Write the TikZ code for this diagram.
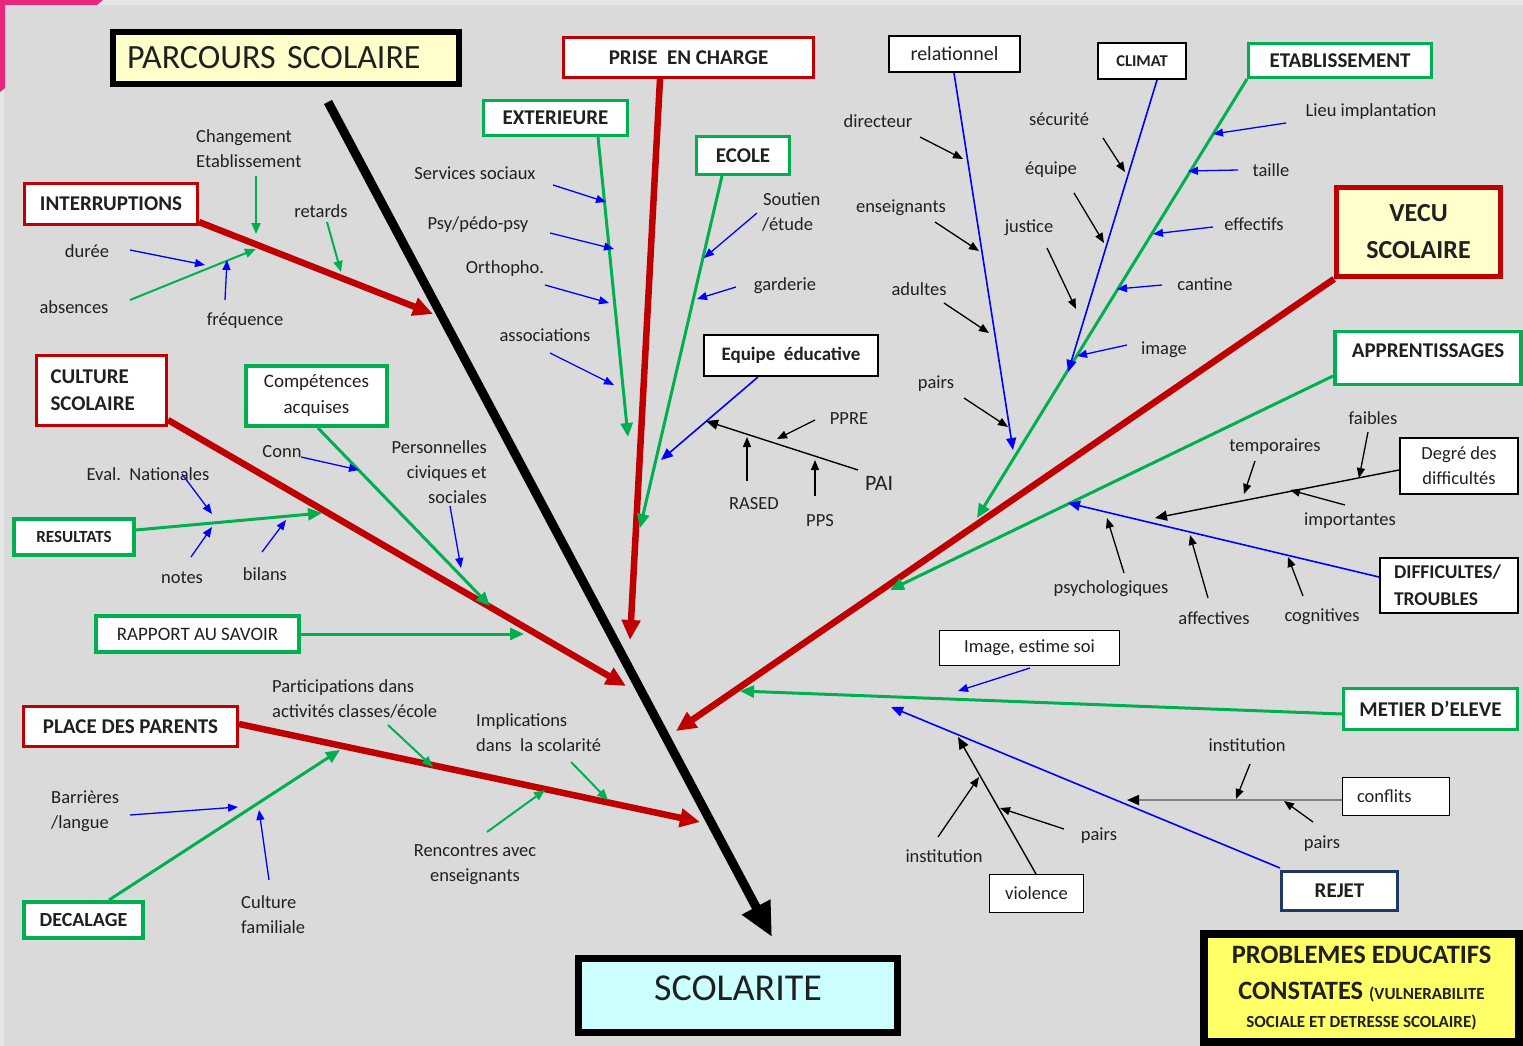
\documentclass[tikz,border=0pt]{standalone}
\usepackage{fontspec}
\setmainfont{Carlito}
\usetikzlibrary{arrows.meta}
\definecolor{myred}{HTML}{C00000}
\definecolor{mygreen}{HTML}{00B050}
\definecolor{myblue}{HTML}{0000FF}
\definecolor{bgc}{HTML}{DADADA}
\definecolor{bgl}{HTML}{E6E6E6}
\definecolor{pinkc}{HTML}{E8267E}
\definecolor{navy}{HTML}{1F3864}
\definecolor{txt}{HTML}{202020}
\definecolor{lyellow}{HTML}{FFFFCC}
\definecolor{lcyan}{HTML}{CCFFFF}
\definecolor{yel}{HTML}{FFFF66}
\definecolor{grayl}{HTML}{808080}
\newcommand\lblf{\fontsize{18.5}{25}\selectfont}
\newcommand\boxf{\fontsize{21}{27}\selectfont\bfseries}
\newcommand\cnx[4]{\coordinate (#1a) at #2; \coordinate (#1b) at #3; \draw[#4] (#1a) -- (#1b);}
\tikzset{
 lbl/.style={font=\lblf, text=txt, inner sep=0pt},
 bx/.style={fill=white, inner sep=2pt, text=txt, font=\boxf},
 bxR/.style={bx, draw=myred, line width=3pt},
 bxG/.style={bx, draw=mygreen, line width=3.5pt},
 bxK/.style={bx, draw=black, line width=1.5pt},
 mainarr/.style={draw=black, line width=9pt, -{Triangle[length=34pt,width=30pt]}},
 thickred/.style={draw=myred, line width=6.5pt, -{Triangle[length=20pt,width=18pt]}},
 grnline/.style={draw=mygreen, line width=3pt, -{Triangle[length=14pt,width=12pt]}},
 grnsm/.style={draw=mygreen, line width=2pt, -{Triangle[length=11pt,width=9pt]}},
 blusm/.style={draw=myblue, line width=1.3pt, -{Triangle[length=10pt,width=8pt]}},
 blksm/.style={draw=black, line width=1.3pt, -{Triangle[length=10pt,width=8pt]}},
 bluln/.style={draw=myblue, line width=1.6pt, -{Triangle[length=12pt,width=10pt]}},
 blkln/.style={draw=black, line width=1.4pt, -{Triangle[length=12pt,width=10pt]}},
 grayln/.style={draw=grayl, line width=1.8pt, -{Triangle[length=12pt,width=10pt,color=black]}},
}
\begin{document}
\begin{tikzpicture}[x=1pt,y=-1pt]
\useasboundingbox (0,0) rectangle (1523,1046);
\fill[bgl] (0,0) rectangle (1523,1046);
\fill[bgc] (4,5) rectangle (1523,1046);
\fill[pinkc] (0,0) -- (103,0) -- (97,5) -- (5,5) -- (5,88) -- (0,92) -- cycle;

% ---- main lines
\cnx{mk}{(328,102)}{(772,937)}{mainarr}
\cnx{rpec}{(660,79)}{(630,640)}{thickred}
\cnx{rvec}{(1334,279)}{(676,731)}{thickred}
\cnx{rint}{(199,222)}{(433,314)}{thickred}
\cnx{rcul}{(168,420)}{(626,686)}{thickred}
\cnx{rpla}{(239,724)}{(700,822)}{thickred}
\cnx{gext}{(598,137)}{(628,437)}{grnline}
\cnx{geco}{(722,176)}{(640,528)}{grnline}
\cnx{geta}{(1247,79)}{(977,518)}{grnline}
\cnx{gapp}{(1333,376)}{(890,590)}{grnline}
\cnx{gmet}{(1342,714)}{(740,691)}{grnline}
\cnx{gcom}{(318,428)}{(490,606)}{grnline}
\cnx{gres}{(136,530)}{(322,513)}{grnline}
\cnx{grap}{(301,634)}{(524,634)}{grnline}
\cnx{gdec}{(109,900)}{(340,750)}{grnline}
\cnx{brel}{(954,73)}{(1013,450)}{bluln}
\cnx{bcli}{(1157,80)}{(1068,372)}{bluln}
\cnx{bequ}{(758,377)}{(661,460)}{bluln}
\cnx{bdif}{(1379,577)}{(1068,503)}{bluln}
\cnx{brej}{(1280,868)}{(891,707)}{bluln}
\cnx{kpai}{(858,470)}{(706,421)}{blkln}
\cnx{kdeg}{(1399,470)}{(1155,518)}{blkln}
\cnx{kcon}{(1342,800)}{(1127,800)}{grayln}
\cnx{kvio}{(1036,874)}{(958,737)}{blkln}

% ---- small arrows
\cnx{chg}{(256,176)}{(256,234)}{grnsm}
\cnx{ret}{(327,222)}{(341,272)}{grnsm}
\cnx{dur}{(130,250)}{(205,265)}{blusm}
\cnx{abs}{(130,300)}{(256,249)}{grnsm}
\cnx{frq}{(225,300)}{(227,260)}{blusm}
\cnx{srv}{(553,185)}{(606,202)}{blusm}
\cnx{psy}{(550,233)}{(614,249)}{blusm}
\cnx{ort}{(545,285)}{(609,303)}{blusm}
\cnx{aso}{(550,353)}{(614,385)}{blusm}
\cnx{sou}{(757,213)}{(704,258)}{blusm}
\cnx{gar}{(736,287)}{(697,299)}{blusm}
\cnx{ppre}{(815,420)}{(777,439)}{blksm}
\cnx{ras}{(747,481)}{(747,437)}{blksm}
\cnx{pps}{(815,496)}{(815,460)}{blksm}
\cnx{dir}{(920,137)}{(963,159)}{blksm}
\cnx{ens}{(935,222)}{(979,251)}{blksm}
\cnx{adu}{(944,303)}{(989,333)}{blksm}
\cnx{pai}{(964,398)}{(1008,427)}{blksm}
\cnx{sec}{(1103,138)}{(1125,172)}{blksm}
\cnx{equi}{(1074,193)}{(1104,243)}{blksm}
\cnx{jus}{(1047,248)}{(1076,309)}{blksm}
\cnx{lieu}{(1286,123)}{(1213,134)}{blusm}
\cnx{tai}{(1238,170)}{(1188,171)}{blusm}
\cnx{eff}{(1213,227)}{(1153,234)}{blusm}
\cnx{can}{(1162,285)}{(1117,289)}{blusm}
\cnx{ima}{(1127,345)}{(1077,356)}{blusm}
\cnx{fai}{(1368,432)}{(1359,478)}{blksm}
\cnx{tem}{(1255,461)}{(1244,494)}{blksm}
\cnx{imp}{(1345,505)}{(1290,490)}{blksm}
\cnx{psyc}{(1124,573)}{(1107,518)}{blksm}
\cnx{aff}{(1208,598)}{(1190,535)}{blksm}
\cnx{cog}{(1303,596)}{(1288,557)}{blksm}
\cnx{ies}{(1030,668)}{(958,691)}{blusm}
\cnx{ins}{(1250,764)}{(1236,799)}{blksm}
\cnx{prr}{(1313,822)}{(1284,801)}{blksm}
\cnx{inn}{(938,837)}{(979,777)}{blksm}
\cnx{paa}{(1064,829)}{(1000,808)}{blksm}
\cnx{cnn}{(301,457)}{(359,470)}{blusm}
\cnx{per}{(450,506)}{(461,568)}{blusm}
\cnx{eva}{(182,474)}{(212,514)}{blusm}
\cnx{nts}{(191,557)}{(212,527)}{blusm}
\cnx{bil}{(262,552)}{(286,520)}{blusm}
\cnx{par}{(388,725)}{(433,767)}{grnsm}
\cnx{imc}{(571,762)}{(608,800)}{grnsm}
\cnx{ren}{(487,832)}{(545,790)}{grnsm}
\cnx{bar}{(130,815)}{(238,807)}{blusm}
\cnx{cuf}{(269,880)}{(259,810)}{blusm}

% ---- boxes
\node[draw=black, line width=6pt, fill=lyellow, minimum width=346pt, minimum height=52pt, font=\fontsize{34}{40}\selectfont, text=txt, text width=318pt, align=left, inner sep=2pt] (ps) at (286,58) {PARCOURS SCOLAIRE};
\node[draw=black, line width=7pt, fill=lcyan, minimum width=319pt, minimum height=74pt, font=\fontsize{38}{44}\selectfont, text=txt] (sco) at (738,995.5) {SCOLARITE\rule[-14pt]{0pt}{14pt}};
\node[bxR, minimum width=250pt, minimum height=40pt] (pec) at (688.5,57.5) {PRISE\ \ EN CHARGE};
\node[bxG, minimum width=144pt, minimum height=35pt] (ext) at (555.5,118) {EXTERIEURE};
\node[bxG, minimum width=93pt, minimum height=38pt] (eco) at (743,155.5) {ECOLE};
\node[bxK, minimum width=174pt, minimum height=41pt, font=\fontsize{19}{24}\selectfont\bfseries] (equ) at (791,355.5) {Equipe\ \ éducative};
\node[bxK, minimum width=131pt, minimum height=36pt, font=\fontsize{20}{24}\selectfont] (rel) at (954.5,54) {relationnel};
\node[bxK, minimum width=88pt, minimum height=36pt, font=\fontsize{16.5}{20}\selectfont\bfseries] (cli) at (1142,61) {CLIMAT};
\node[bxG, minimum width=183pt, minimum height=34pt] (eta) at (1340,60.5) {ETABLISSEMENT};
\node[bx, draw=myred, line width=5pt, fill=lyellow, minimum width=164pt, minimum height=89pt, font=\fontsize{26}{37}\selectfont\bfseries, align=center] (vecu) at (1418.5,232) {VECU\\SCOLAIRE};
\node[bxG, minimum width=186pt, minimum height=53pt] (app) at (1428,358) {APPRENTISSAGES\rule[-14pt]{0pt}{14pt}};
\node[bxK, minimum width=118pt, minimum height=56pt, font=\lblf, align=center] (deg) at (1459,466) {Degré des\\difficultés};
\node[bxK, minimum width=138pt, minimum height=55pt, font=\fontsize{19.5}{27}\selectfont\bfseries, align=left, text width=110pt, inner xsep=14pt] (dif) at (1449,585.5) {DIFFICULTES/\\TROUBLES};
\node[bxK, minimum width=180pt, minimum height=35pt, font=\lblf] (img) at (1029.5,648) {Image, estime soi};
\node[bxG, minimum width=174pt, minimum height=41pt] (met) at (1430.5,709) {METIER D’ELEVE};
\node[bx, draw=navy, line width=3pt, minimum width=116pt, minimum height=39pt] (rej) at (1339.5,891) {REJET};
\node[bxK, minimum width=107pt, minimum height=38pt, font=\lblf, text width=78pt, inner xsep=14.5pt, align=left] (con) at (1396,796.5) {conflits};
\node[bxK, minimum width=94pt, minimum height=38pt, font=\lblf] (vio) at (1036.5,893.5) {violence};
\node[draw=black, line width=8pt, fill=yel, minimum width=315pt, minimum height=108pt, align=center, text=txt, font=\fontsize{26.5}{36}\selectfont\bfseries] (pro) at (1361.5,988) {PROBLEMES EDUCATIFS\\CONSTATES {\fontsize{17}{20}\selectfont(VULNERABILITE}\\[-8pt]{\fontsize{17}{20}\selectfont SOCIALE ET DETRESSE SCOLAIRE)}};
\node[bxR, minimum width=173pt, minimum height=41pt] (int) at (111,204) {INTERRUPTIONS};
\node[bxR, minimum width=130pt, minimum height=70pt, align=left, text width=102pt, inner xsep=14pt] (cul) at (101.5,390.5) {CULTURE\\SCOLAIRE};
\node[bxG, line width=4pt, minimum width=141pt, minimum height=60pt, font=\fontsize{19}{26}\selectfont, align=center] (com) at (316.5,396) {Compétences\\acquises};
\node[bxG, line width=4pt, minimum width=120pt, minimum height=36pt, font=\fontsize{17}{20}\selectfont\bfseries] (res) at (74,537) {RESULTATS};
\node[bxG, line width=4pt, minimum width=203pt, minimum height=36pt, font=\fontsize{19}{22}\selectfont] (rap) at (197.5,634) {RAPPORT AU SAVOIR};
\node[bxR, minimum width=214pt, minimum height=40pt] (pla) at (130.5,726.5) {PLACE DES PARENTS};
\node[bxG, line width=4pt, minimum width=119pt, minimum height=36pt, font=\fontsize{20}{24}\selectfont\bfseries] (dec) at (83.5,920) {DECALAGE};

% ---- labels
\node[lbl, anchor=west, align=left] (tchg) at (196,148.5) {Changement\\Etablissement};
\node[lbl] (tret) at (321,211) {retards};
\node[lbl] (tdur) at (87,251) {durée};
\node[lbl] (tabs) at (74,307) {absences};
\node[lbl] (tfrq) at (245,321) {fréquence};
\node[lbl] (tsrv) at (475,173) {Services sociaux};
\node[lbl] (tpsy) at (478,225) {Psy/pédo-psy};
\node[lbl] (tort) at (505,269) {Orthopho.};
\node[lbl] (taso) at (545,335) {associations};
\node[lbl, anchor=west, align=left] (tsou) at (762,211.5) {\hspace*{1pt}Soutien\\/étude};
\node[lbl] (tgar) at (785,286) {garderie};
\node[lbl] (tppre) at (849,419) {PPRE};
\node[lbl, font=\fontsize{22}{26}\selectfont] (tpai) at (879,483) {PAI};
\node[lbl] (tras) at (754,504) {RASED};
\node[lbl] (tpps) at (820,521) {PPS};
\node[lbl] (tdir) at (878,121) {directeur};
\node[lbl] (tens) at (901,208) {enseignants};
\node[lbl] (tadu) at (919,289) {adultes};
\node[lbl] (tpai2) at (936,384) {pairs};
\node[lbl] (tsec) at (1059,119) {sécurité};
\node[lbl] (tequ) at (1051,170) {équipe};
\node[lbl] (tjus) at (1029,228) {justice};
\node[lbl] (tlieu) at (1371,112) {Lieu implantation};
\node[lbl] (ttai) at (1271,170) {taille};
\node[lbl] (teff) at (1254,224) {effectifs};
\node[lbl] (tcan) at (1205,284) {cantine};
\node[lbl] (tima) at (1164,350) {image};
\node[lbl] (tfai) at (1373,418) {faibles};
\node[lbl] (ttem) at (1275,447) {temporaires};
\node[lbl] (timp) at (1350,521) {importantes};
\node[lbl] (tpsyc) at (1111,589) {psychologiques};
\node[lbl] (taff) at (1214,618) {affectives};
\node[lbl] (tcog) at (1322,617) {cognitives};
\node[lbl] (tins) at (1247,745) {institution};
\node[lbl] (tprr) at (1322,844) {pairs};
\node[lbl] (tinn) at (944,856) {institution};
\node[lbl] (tpaa) at (1099,836) {pairs};
\node[lbl] (tcnn) at (282,452) {Conn};
\node[lbl] (teva) at (148,474) {Eval.\ \ Nationales};
\node[lbl] (tnts) at (182,578) {notes};
\node[lbl] (tbil) at (265,574) {bilans};
\node[lbl, anchor=east, align=right] (tper) at (487,472) {Personnelles\\civiques et\\sociales};
\node[lbl, anchor=west, align=left] (tpar) at (272,698.5) {Participations dans\\activités classes/école};
\node[lbl, anchor=west, align=left] (timc) at (476,732.5) {Implications\\dans\ \ la scolarité};
\node[lbl, align=center] (tren) at (475,865) {Rencontres avec\\enseignants};
\node[lbl, anchor=west, align=left] (tbar) at (51,811) {Barrières\\/langue};
\node[lbl, anchor=west, align=left] (tcuf) at (241,914.5) {Culture\\familiale};
\end{tikzpicture}
\end{document}
